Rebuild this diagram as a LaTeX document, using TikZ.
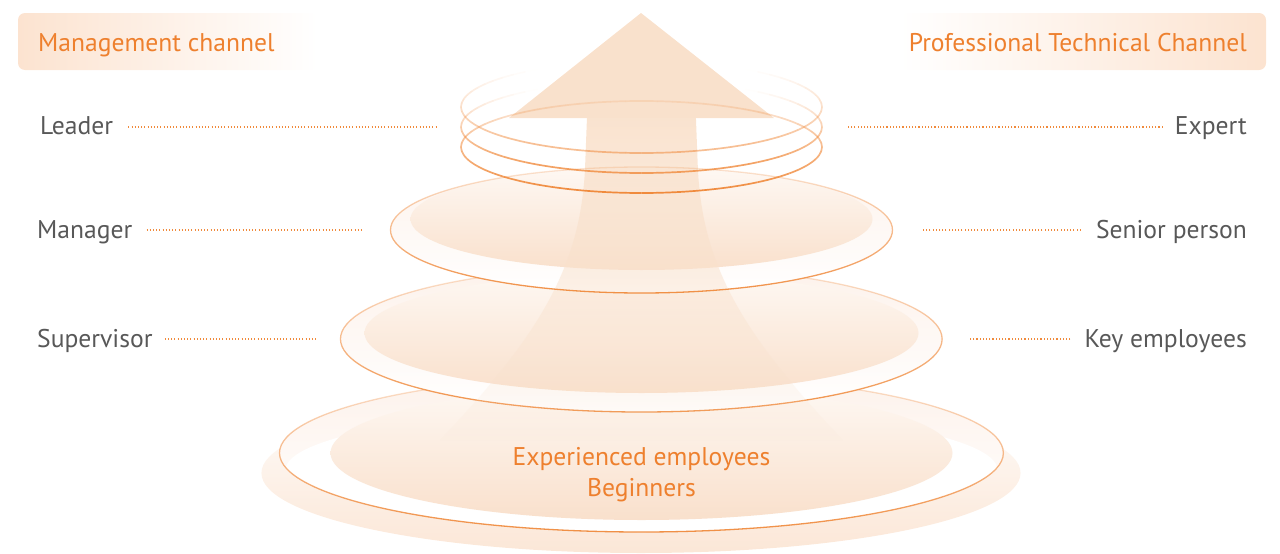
\documentclass[tikz,border=0pt]{standalone}
\usepackage{fontspec}
\setmainfont{PT Sans}
\usetikzlibrary{fadings}

\definecolor{accent}{RGB}{238,128,46}
\definecolor{lineor}{RGB}{240,138,60}
\definecolor{peach}{RGB}{249,225,204}
\definecolor{peachlt}{RGB}{253,242,235}
\definecolor{tiertop}{RGB}{254,248,243}
\definecolor{tierbot}{RGB}{249,224,204}
\definecolor{halo}{RGB}{251,229,212}
\definecolor{labelgray}{RGB}{88,88,88}
\definecolor{boxpeach}{RGB}{252,227,208}

% shaft: opaque at the top, gone at the bottom
\begin{tikzfadingfrompicture}[name=shaftfade]
  \shade[top color=transparent!0, middle color=transparent!10, bottom color=transparent!100] (0,0) rectangle (2,2);
\end{tikzfadingfrompicture}
% tier outlines
\begin{tikzfadingfrompicture}[name=outfade]
  \shade[top color=transparent!85, middle color=transparent!35, bottom color=transparent!0] (0,0) rectangle (2,2);
\end{tikzfadingfrompicture}
% soft halo under the base
\begin{tikzfadingfrompicture}[name=softfade]
  \shade[top color=transparent!100, middle color=transparent!30, bottom color=transparent!0] (0,0) rectangle (2,2);
\end{tikzfadingfrompicture}

\begin{document}
\begin{tikzpicture}[x=1pt,y=1pt,
  lbl/.style={font=\fontsize{25.6}{30}\selectfont, text=labelgray, inner sep=0pt},
  head/.style={font=\fontsize{25.6}{30}\selectfont, text=accent, inner sep=0pt},
  dotline/.style={lineor, line width=1.1pt, dash pattern=on 1.1pt off 2.1pt},
  tierline/.style={lineor, line width=1.3pt},
  ringline/.style={lineor, line width=1.7pt},
  tierfill/.style={top color=tiertop, bottom color=tierbot},
  bandfill/.style={top color=peachlt, middle color=white, bottom color=white}]

\useasboundingbox (0,0) rectangle (1280,-554);

% ---------- channel headers ----------
\shade[left color=boxpeach, right color=white, rounded corners=7pt] (18,-13) rectangle (318,-70);
\shade[left color=white, right color=boxpeach, rounded corners=7pt] (900,-13) rectangle (1266,-70);
\node[head, anchor=base west] (mgmt) at (38,-51) {Management channel};
\node[head, anchor=base east] (tech) at (1247,-51) {Professional Technical Channel};

% ---------- base tier ----------
\fill[halo, path fading=softfade] (641.5,-473) ellipse [x radius=380, y radius=80];
\begin{scope}
  \clip (641.5,-453) ellipse [x radius=362, y radius=79];
  \shade[top color=peachlt, bottom color=white] (641.5,-453) ellipse [x radius=362, y radius=79];
  \fill[white] (641.5,-470) ellipse [x radius=356, y radius=62];
\end{scope}
\shade[tierfill] (641.5,-453) ellipse [x radius=311, y radius=67];
\draw[tierline, path fading=outfade] (641.5,-453) ellipse [x radius=362, y radius=79];

% ---------- third tier ----------
\shade[bandfill] (641.5,-339) ellipse [x radius=301, y radius=73];
\shade[tierfill] (641.5,-333) ellipse [x radius=277, y radius=60];
\draw[tierline, path fading=outfade] (641.5,-339) ellipse [x radius=301, y radius=73];

% ---------- second tier ----------
\shade[bandfill] (641.5,-230) ellipse [x radius=251, y radius=63];
\shade[tierfill] (641.5,-219) ellipse [x radius=231, y radius=51];

% ---------- rising arrow ----------
\fill[peach, path fading=shaftfade]
  (587,-118) -- (585,-170) .. controls (580,-262) and (545,-330) .. (440,-440)
  -- (843,-440) .. controls (738,-330) and (703,-262) .. (698,-170) -- (696,-118) -- cycle;
\fill[peach] (641,-13) -- (774,-118) -- (509,-118) -- cycle;

\draw[tierline, path fading=outfade] (641.5,-230) ellipse [x radius=251, y radius=63];

% ---------- rings round the arrow: the far side fades away ----------
\foreach \cy/\base/\pa/\pb in {107/0.55/0.5/0.62, 127/0.8/0.5/0.62, 147/1/0.58/0.42} {
  \foreach \t in {0,5,...,355} {
    \pgfmathsetmacro\op{\base*max(0,min(1,\pa-\pb*sin(\t+2.5)))}
    \draw[ringline, opacity=\op] (641.5,-\cy) ++(\t:180.5 and 46)
      arc[start angle=\t, end angle=\t+5, x radius=180.5, y radius=46];
  }
}

% ---------- base text ----------
\node[head, anchor=base] (exper) at (641.5,-465) {Experienced employees};
\node[head, anchor=base] (begin) at (641.5,-496) {Beginners};

% ---------- level labels ----------
\node[lbl, anchor=base west] (leader) at (40,-134) {Leader};
\node[lbl, anchor=base west] (manager) at (37,-238) {Manager};
\node[lbl, anchor=base west] (supervisor) at (37,-347) {Supervisor};
\node[lbl, anchor=base east] (expert) at (1247,-134) {Expert};
\node[lbl, anchor=base east] (senior) at (1247,-238) {Senior person};
\node[lbl, anchor=base east] (keyemp) at (1247,-347) {Key employees};

\coordinate (leadEnd) at (438,-127);
\coordinate (mgrEnd) at (363,-230);
\coordinate (supEnd) at (316,-339);
\coordinate (expEnd) at (848,-127);
\coordinate (senEnd) at (922,-230);
\coordinate (keyEnd) at (969,-339);

\path (leader.east |- leadEnd) coordinate (leadStart);
\path (manager.east |- mgrEnd) coordinate (mgrStart);
\path (supervisor.east |- supEnd) coordinate (supStart);
\path (expert.west |- expEnd) coordinate (expStart);
\path (senior.west |- senEnd) coordinate (senStart);
\path (keyemp.west |- keyEnd) coordinate (keyStart);

\draw[dotline] ([xshift=15pt]leadStart) -- (leadEnd);
\draw[dotline] ([xshift=14pt]mgrStart) -- (mgrEnd);
\draw[dotline] ([xshift=12pt]supStart) -- (supEnd);
\draw[dotline] ([xshift=-12pt]expStart) -- (expEnd);
\draw[dotline] ([xshift=-15pt]senStart) -- (senEnd);
\draw[dotline] ([xshift=-14pt]keyStart) -- (keyEnd);
\end{tikzpicture}
\end{document}
